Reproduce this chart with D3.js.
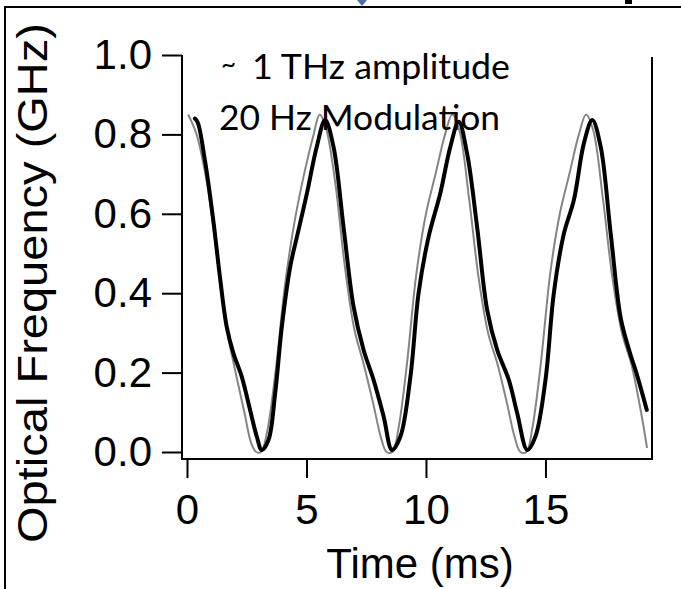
<!DOCTYPE html>
<html>
<head>
  <meta charset="utf-8">
  <script src="https://cdn.jsdelivr.net/npm/d3@7"></script>
  <style>
    body {margin:0; background:#fff;}
    text {font-family: "Liberation Sans", Arial, sans-serif;}
    .note {font-family: Lato, "Open Sans", sans-serif;}
  </style>
</head>
<body>
<script>
// measured trace (black) and reference trace (gray), time in ms, frequency in GHz
const blackTime = [0.33, 0.45, 0.75, 1.10, 1.38, 1.66, 1.94, 2.29, 2.64, 2.92, 3.13, 3.41, 3.69, 3.97, 4.32, 4.60, 5.02, 5.43, 5.78,
  6.13, 6.55, 6.97, 7.39, 7.81, 8.23, 8.58, 8.93, 9.35, 9.69, 10.11, 10.60, 11.02, 11.37,
  11.72, 12.14, 12.56, 12.98, 13.47, 13.82, 14.24, 14.58, 15.00, 15.35, 15.77, 16.19, 16.61, 16.96,
  17.31, 17.73, 18.15, 18.50, 18.85, 19.24];
const blackFreq = [0.84, 0.83, 0.735, 0.584, 0.44, 0.316, 0.249, 0.19, 0.106, 0.039, 0.005, 0.03, 0.148, 0.316, 0.467, 0.542, 0.652, 0.769, 0.836,
  0.769, 0.567, 0.366, 0.257, 0.181, 0.089, 0.005, 0.039, 0.19, 0.40, 0.542, 0.652, 0.769, 0.832,
  0.752, 0.567, 0.358, 0.257, 0.181, 0.097, 0.005, 0.039, 0.181, 0.40, 0.55, 0.635, 0.778, 0.836,
  0.769, 0.55, 0.337, 0.257, 0.19, 0.106];

const grayTime = [0.05, 0.4, 0.8, 1.2, 1.6, 2.0, 2.4, 2.7, 2.9, 3.1, 3.35, 3.7, 4.1, 4.5, 4.9, 5.3, 5.55,
  5.8, 6.2, 6.6, 7.0, 7.4, 7.8, 8.1, 8.35, 8.6, 8.85, 9.2, 9.6, 10.0, 10.4, 10.8, 11.1,
  11.4, 11.8, 12.2, 12.6, 13.0, 13.4, 13.7, 13.95, 14.2, 14.45, 14.8, 15.2, 15.6, 16.0, 16.4, 16.7,
  17.0, 17.4, 17.8, 18.2, 18.6, 19.0, 19.25];
const grayFreq = [0.85, 0.80, 0.69, 0.52, 0.33, 0.21, 0.10, 0.02, 0.0, 0.0, 0.05, 0.2, 0.42, 0.58, 0.70, 0.80, 0.85,
  0.82, 0.68, 0.47, 0.31, 0.22, 0.12, 0.04, 0.0, 0.0, 0.06, 0.22, 0.45, 0.60, 0.70, 0.80, 0.85,
  0.81, 0.64, 0.44, 0.30, 0.22, 0.12, 0.04, 0.0, 0.0, 0.06, 0.22, 0.45, 0.60, 0.70, 0.80, 0.85,
  0.81, 0.64, 0.44, 0.30, 0.22, 0.10, 0.01];

const xTicks = [0, 5, 10, 15];
const yTicks = [0.0, 0.2, 0.4, 0.6, 0.8, 1.0];

const width = 681, height = 589;

const svg = d3.select("body").append("svg")
  .attr("width", width)
  .attr("height", height);

// slide frame around the figure
svg.append("path")
  .attr("d", "M5,589V7H681")
  .attr("fill", "none")
  .attr("stroke", "#000")
  .attr("stroke-width", 2);
svg.append("path")
  .attr("d", "M357,0L367,0L362,6Z")
  .attr("fill", "#4a6ea5");
svg.append("rect")
  .attr("x", 625).attr("y", 0).attr("width", 7).attr("height", 4)
  .attr("fill", "#000");

const x = d3.scaleLinear().domain([0, 19.5]).range([187, 653]);
const y = d3.scaleLinear().domain([0, 1]).range([452, 55]);

// plot box: left axis line, bottom, right
svg.append("path")
  .attr("d", `M182,${y(1)}V459H652V57`)
  .attr("fill", "none")
  .attr("stroke", "#000")
  .attr("stroke-width", 2);

const yAxis = svg.append("g")
  .attr("transform", "translate(182,0)")
  .call(d3.axisLeft(y).tickValues(yTicks).tickFormat(d3.format(".1f")).tickSize(20).tickPadding(10));
const xAxis = svg.append("g")
  .attr("transform", "translate(0,459)")
  .call(d3.axisBottom(x).tickValues(xTicks).tickSize(19).tickPadding(16));

[yAxis, xAxis].forEach(g => {
  g.select(".domain").remove();
  g.selectAll("line").attr("stroke", "#000").attr("stroke-width", 2);
  g.selectAll("text").attr("font-size", 42).attr("fill", "#000")
    .attr("font-family", "'Liberation Sans', Arial, sans-serif");
});

const line = d3.line()
  .x(d => x(d[0]))
  .y(d => y(d[1]))
  .curve(d3.curveCatmullRom);

svg.append("path")
  .datum(d3.zip(grayTime, grayFreq))
  .attr("d", line)
  .attr("fill", "none")
  .attr("stroke", "#858585")
  .attr("stroke-width", 2);

svg.append("path")
  .datum(d3.zip(blackTime, blackFreq))
  .attr("d", line)
  .attr("fill", "none")
  .attr("stroke", "#000")
  .attr("stroke-width", 4)
  .attr("stroke-linejoin", "round")
  .attr("stroke-linecap", "round");

// axis titles
svg.append("text")
  .attr("x", 420).attr("y", 578)
  .attr("text-anchor", "middle")
  .attr("font-size", 42)
  .text("Time (ms)");

svg.append("text")
  .attr("transform", "translate(47,283) rotate(-90)")
  .attr("text-anchor", "middle")
  .attr("font-size", 42)
  .attr("textLength", 520)
  .attr("lengthAdjust", "spacingAndGlyphs")
  .text("Optical Frequency (GHz)");

// annotation
svg.append("text").attr("class", "note")
  .attr("x", 221).attr("y", 73)
  .attr("font-size", 26)
  .text("~");
svg.append("text").attr("class", "note")
  .attr("x", 252).attr("y", 79)
  .attr("font-size", 34)
  .attr("textLength", 258)
  .attr("lengthAdjust", "spacingAndGlyphs")
  .text("1 THz amplitude");
svg.append("text").attr("class", "note")
  .attr("x", 219).attr("y", 130)
  .attr("font-size", 34)
  .attr("textLength", 281)
  .attr("lengthAdjust", "spacingAndGlyphs")
  .text("20 Hz Modulation");
</script>
</body>
</html>
